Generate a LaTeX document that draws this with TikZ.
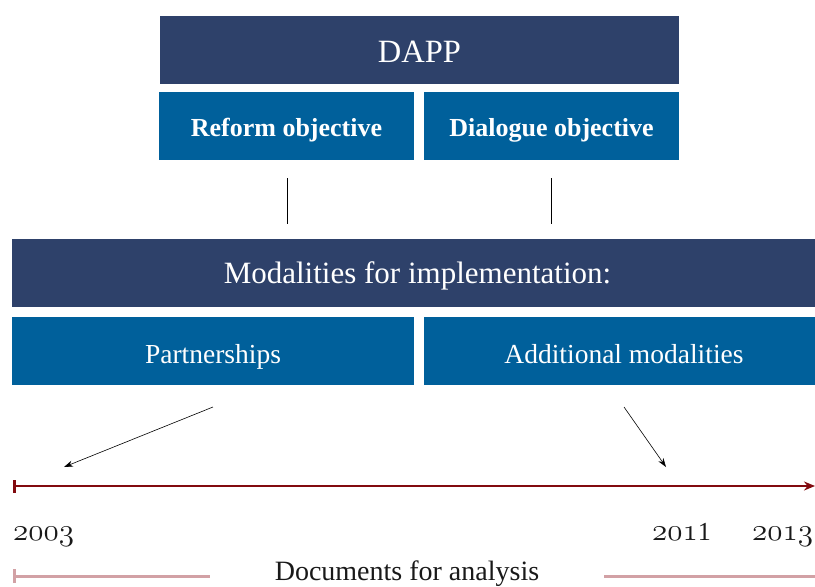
\documentclass[tikz,border=0pt]{standalone}
\usepackage{fontspec}
\setmainfont{Liberation Serif}
\usetikzlibrary{arrows.meta}
\definecolor{navy}{HTML}{2E416A}
\definecolor{bluebox}{HTML}{00609B}
\definecolor{darkred}{HTML}{820A0F}
\definecolor{pinkline}{HTML}{D2A1A5}
\newcommand{\osn}[1]{\scalebox{1.25}{\usefont{OML}{cmm}{m}{it}\fontsize{24.88}{26}\selectfont #1}}
\begin{document}
\begin{tikzpicture}[x=1pt,y=-1pt,
  navybox/.style={fill=navy,text=white,minimum height=68pt,inner sep=0pt,text depth=0pt},
  bluebx/.style={fill=bluebox,text=white,minimum height=68pt,inner sep=0pt,text depth=0pt},
  conn/.style={draw=black,line width=0.6pt},
  arr/.style={conn,-{Stealth[length=9pt,width=6pt]}},
  yearlbl/.style={anchor=base west,inner sep=0pt,text=black!90}
]
\useasboundingbox (0,0) rectangle (815,587);
\begin{scope}
\clip (0,0) rectangle (815,587);
\node[navybox,minimum width=519pt,text height=24pt,font=\fontsize{32.5}{34}\selectfont] (dapp) at (419.5,50) {DAPP};
\node[bluebx,minimum width=255pt,text height=21.4pt,font=\fontsize{26}{28}\selectfont\bfseries] (reform) at (286.5,126) {Reform objective};
\node[bluebx,minimum width=255pt,text height=21.4pt,font=\fontsize{26}{28}\selectfont\bfseries] (dialogue) at (551.5,126) {Dialogue objective};
\node[navybox,minimum width=811pt,text height=20.6pt,font=\fontsize{31}{33}\selectfont] (modal) at (417.5,273) {Modalities for implementation:};
\node[bluebx,minimum width=402pt,text height=24pt,font=\fontsize{27.5}{30}\selectfont] (partner) at (213,351) {Partnerships};
\node[bluebx,minimum width=400pt,text height=24pt,font=\fontsize{27.5}{30}\selectfont] (addit) at (624,351) {Additional modalities};
\end{scope}
\coordinate (l1a) at (287,178);
\coordinate (l1b) at (287,224);
\coordinate (l2a) at (551,178);
\coordinate (l2b) at (551,224);
\coordinate (a1start) at (213,407);
\coordinate (a1end) at (64,467);
\coordinate (a2start) at (624,407);
\coordinate (a2end) at (666,467);
\coordinate (t0) at (13,486);
\coordinate (t1) at (815,486);
\coordinate (p0) at (13,576);
\coordinate (p1) at (210,576);
\coordinate (p2) at (604,576);
\coordinate (p3) at (815,576);
\draw[conn] (l1a) -- (l1b);
\draw[conn] (l2a) -- (l2b);
\draw[arr] (a1start) -- (a1end);
\draw[arr] (a2start) -- (a2end);
\draw[darkred,line width=2pt,{Bar[width=13pt,line width=2.5pt]}-{Stealth[length=11pt,width=9pt]}] (t0) -- (t1);
\node[yearlbl] (y2003) at (13,540) {\osn{2003}};
\node[yearlbl] (y2011) at (652,540) {\osn{201}{\fontsize{26}{28}\selectfont 1}};
\node[yearlbl] (y2013) at (752,540) {\osn{2013}};
\draw[pinkline,line width=3pt,{Bar[width=14pt,line width=3pt]}-] (p0) -- (p1);
\draw[pinkline,line width=3pt] (p2) -- (p3);
\node[anchor=base,inner sep=0pt,font=\fontsize{28}{30}\selectfont,text=black!90] (docs) at (407,580) {Documents for analysis};
\end{tikzpicture}
\end{document}
